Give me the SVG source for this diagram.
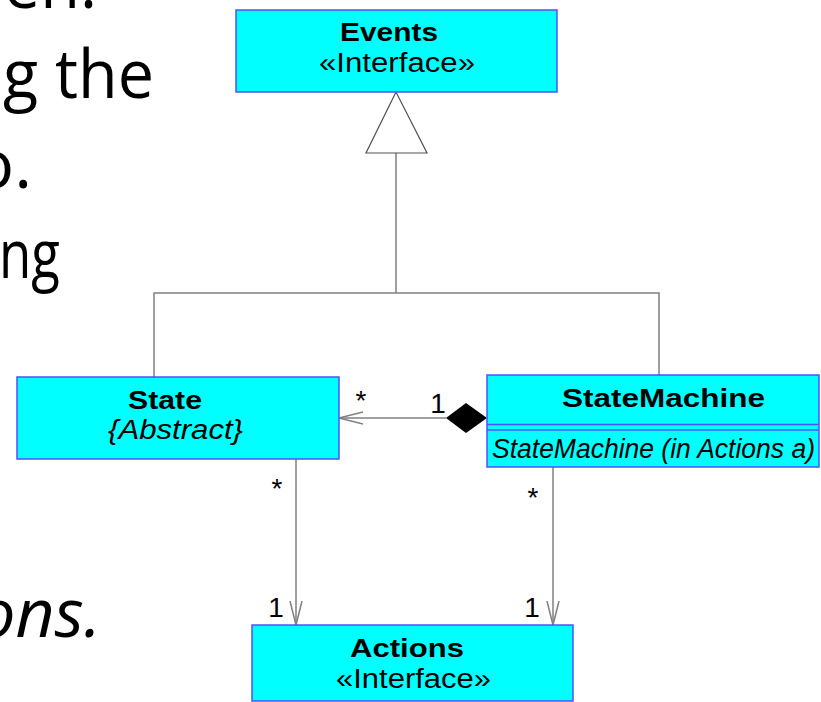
<svg xmlns="http://www.w3.org/2000/svg" width="821" height="702" viewBox="0 0 821 702">
  <style>
    .box { fill: #00ffff; stroke: #5050ff; stroke-width: 1.5; }
    .sep { stroke: #5050ff; stroke-width: 1.5; }
    .name { font-family: "Liberation Sans", Arial, sans-serif; font-weight: bold; font-size: 26px; fill: #000; }
    .stereo { font-family: "Liberation Sans", Arial, sans-serif; font-size: 27px; fill: #000; }
    .ital { font-family: "Liberation Sans", Arial, sans-serif; font-style: italic; font-size: 27px; fill: #000; }
    .mult { font-family: "Liberation Sans", Arial, sans-serif; font-size: 28px; fill: #000; }
    .line { fill: none; stroke: #808080; stroke-width: 1.5; }
    .slide { font-family: "Open Sans", "Noto Sans", sans-serif; font-size: 68px; fill: #000; }
  </style>
  <defs>
    <marker id="open" markerWidth="26" markerHeight="14" refX="24" refY="7" orient="auto" markerUnits="userSpaceOnUse">
      <path d="M0,1 L24,7 L0,13" fill="none" stroke="#808080" stroke-width="1.5"/>
    </marker>
  </defs>

  <rect width="821" height="702" fill="#ffffff"/>

  <!-- surrounding slide text, clipped by the left edge -->
  <g id="slide-text">
    <text class="slide" x="-36" y="8" textLength="133" lengthAdjust="spacingAndGlyphs">hen.</text>
    <text class="slide" x="3" y="98" textLength="151" lengthAdjust="spacingAndGlyphs">g the</text>
    <text class="slide" x="32" y="188" text-anchor="end">o.</text>
    <text class="slide" x="-1" y="278" textLength="61" lengthAdjust="spacingAndGlyphs">ng</text>
    <text class="slide" x="101" y="637" text-anchor="end" font-style="italic">ons.</text>
  </g>

  <!-- connectors -->
  <g id="connectors">
    <!-- generalization to Events -->
    <path class="line" d="M396,153 V293 M154,377 V293 H659 V375"/>
    <polygon points="396,92 366,153 427,153" fill="#ffffff" stroke="#505050" stroke-width="1.2"/>
    <!-- composition StateMachine -> State -->
    <line class="line" x1="446" y1="418" x2="339" y2="418" marker-end="url(#open)"/>
    <polygon points="487,418 466,403 446,418 466,433" fill="#000000"/>
    <!-- associations to Actions -->
    <line class="line" x1="296" y1="459" x2="296" y2="625" marker-end="url(#open)"/>
    <line class="line" x1="553" y1="467" x2="553" y2="625" marker-end="url(#open)"/>
    <!-- multiplicities -->
    <text class="mult" x="361" y="410" text-anchor="middle">*</text>
    <text class="mult" x="438" y="413" text-anchor="middle">1</text>
    <text class="mult" x="277" y="498" text-anchor="middle">*</text>
    <text class="mult" x="533" y="507" text-anchor="middle">*</text>
    <text class="mult" x="276" y="617" text-anchor="middle">1</text>
    <text class="mult" x="532" y="617" text-anchor="middle">1</text>
  </g>

  <g id="events">
    <rect class="box" x="236" y="10" width="321" height="82"/>
    <text class="name" x="340" y="41" textLength="98" lengthAdjust="spacingAndGlyphs">Events</text>
    <text class="stereo" x="319" y="72" textLength="156" lengthAdjust="spacingAndGlyphs">«Interface»</text>
  </g>

  <g id="state">
    <rect class="box" x="17" y="377" width="322" height="82"/>
    <text class="name" x="128" y="409" textLength="74" lengthAdjust="spacingAndGlyphs">State</text>
    <text class="ital" x="108" y="439" textLength="135" lengthAdjust="spacingAndGlyphs">{Abstract}</text>
  </g>

  <g id="statemachine">
    <rect class="box" x="487" y="375" width="332" height="92"/>
    <line class="sep" x1="487" y1="424.5" x2="819" y2="424.5"/>
    <line class="sep" x1="487" y1="430" x2="819" y2="430"/>
    <text class="name" x="562" y="407" textLength="203" lengthAdjust="spacingAndGlyphs">StateMachine</text>
    <text class="ital" x="492" y="458" textLength="323" lengthAdjust="spacingAndGlyphs">StateMachine (in Actions a)</text>
  </g>

  <g id="actions">
    <rect class="box" x="252" y="625" width="321" height="76"/>
    <text class="name" x="350" y="657" textLength="114" lengthAdjust="spacingAndGlyphs">Actions</text>
    <text class="stereo" x="336" y="688" textLength="155" lengthAdjust="spacingAndGlyphs">«Interface»</text>
  </g>
</svg>
